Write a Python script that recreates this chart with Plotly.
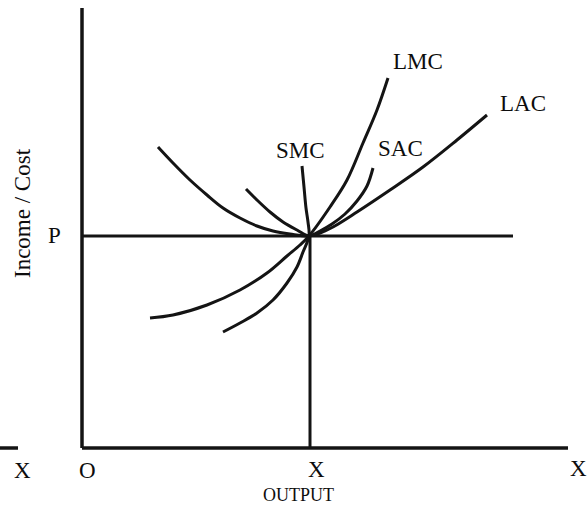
import plotly.graph_objects as go

# ---- data (output units on x, income/cost units on y) ----
lac_x = [7.6, 9.1, 10.8, 12.5, 14.1, 15.8, 17.5, 19.1, 20.8, 22.7, 23.8, 25.1, 27.5, 30.8, 34.1, 37.5, 40.5]
lac_y = [30.1, 28.5, 26.8, 25.3, 24.0, 23.0, 22.2, 21.7, 21.4, 21.2, 21.5, 22.1, 23.6, 25.8, 28.1, 30.8, 33.3]

sac_x = [16.4, 17.5, 18.8, 20.1, 21.5, 22.7, 23.8, 25.0, 26.3, 27.5, 28.5, 29.1]
sac_y = [25.9, 24.8, 23.6, 22.6, 21.8, 21.2, 21.7, 22.4, 23.4, 24.7, 26.2, 28.0]

smc_x = [14.1, 15.8, 17.5, 19.1, 20.5, 21.5, 22.1, 22.7, 22.6, 22.4, 22.2, 22.0]
smc_y = [11.6, 12.5, 13.5, 14.8, 16.5, 18.1, 19.6, 21.2, 22.6, 24.0, 26.1, 28.2]

lmc_x = [6.8, 9.1, 12.5, 15.8, 18.5, 20.5, 21.8, 22.7, 24.8, 26.5, 28.1, 29.5, 30.6]
lmc_y = [13.0, 13.3, 14.3, 15.8, 17.5, 19.2, 20.3, 21.2, 24.1, 26.8, 30.5, 33.8, 37.0]

price_p = 21.2          # P level
output_x = 22.8         # equilibrium output X
y_axis_top = 44.0
x_axis_end = 48.6
p_line_end = 43.1
stub_x = [-8.2, -6.4]   # short axis segment at left (X side)

curve_labels = ["LMC", "LAC", "SMC", "SAC"]
axis_labels = ["X", "O", "X", "X"]
x_title = "OUTPUT"
y_title = "Income / Cost"
p_label = "P"

LINE = "#141414"
FONT = "Liberation Serif"

fig = go.Figure()

def add_line(xs, ys, w=3, shape="linear"):
    fig.add_trace(go.Scatter(x=xs, y=ys, mode="lines",
                             line=dict(color=LINE, width=w, shape=shape, smoothing=1.0),
                             hoverinfo="skip", showlegend=False))

# axes
add_line([0, 0], [0, y_axis_top], w=3.5)
add_line([0, x_axis_end], [0, 0], w=3.5)
add_line(stub_x, [0, 0], w=3.5)
# P line and X line
add_line([0, p_line_end], [price_p, price_p], w=3)
add_line([output_x, output_x], [0, price_p], w=3)

# curves
for xs, ys in [(lac_x, lac_y), (sac_x, sac_y), (smc_x, smc_y), (lmc_x, lmc_y)]:
    add_line(xs, ys, w=3, shape="spline")

def label(text, x, y, size=23, angle=0):
    fig.add_annotation(x=x, y=y, text=text, showarrow=False, textangle=angle,
                       font=dict(family=FONT, size=size, color="#0d0d0d"),
                       xanchor="center", yanchor="middle")

label(curve_labels[0], 33.6, 38.7)
label(curve_labels[1], 44.1, 34.5)
label(curve_labels[2], 21.8, 29.8)
label(curve_labels[3], 31.8, 30.0)
label(p_label, -2.8, 21.3)
label(y_title, -6.0, 23.5, size=23, angle=-90)
label(axis_labels[0], -6.0, -2.2)
label(axis_labels[1], 0.5, -2.2)
label(axis_labels[2], 23.4, -2.1)
label(axis_labels[3], 49.6, -2.0)
label(x_title, 21.6, -4.7, size=18)

fig.update_layout(
    width=587, height=508,
    margin=dict(l=0, r=0, t=0, b=0),
    paper_bgcolor="white", plot_bgcolor="white",
    xaxis=dict(range=[-8.2, 50.5], visible=False, fixedrange=True),
    yaxis=dict(range=[-6.0, 44.8], visible=False, fixedrange=True),
    showlegend=False,
)

fig.write_html("out.html", config={"displayModeBar": False},
               post_script="document.body.style.margin='0';document.body.style.overflow='hidden';")
